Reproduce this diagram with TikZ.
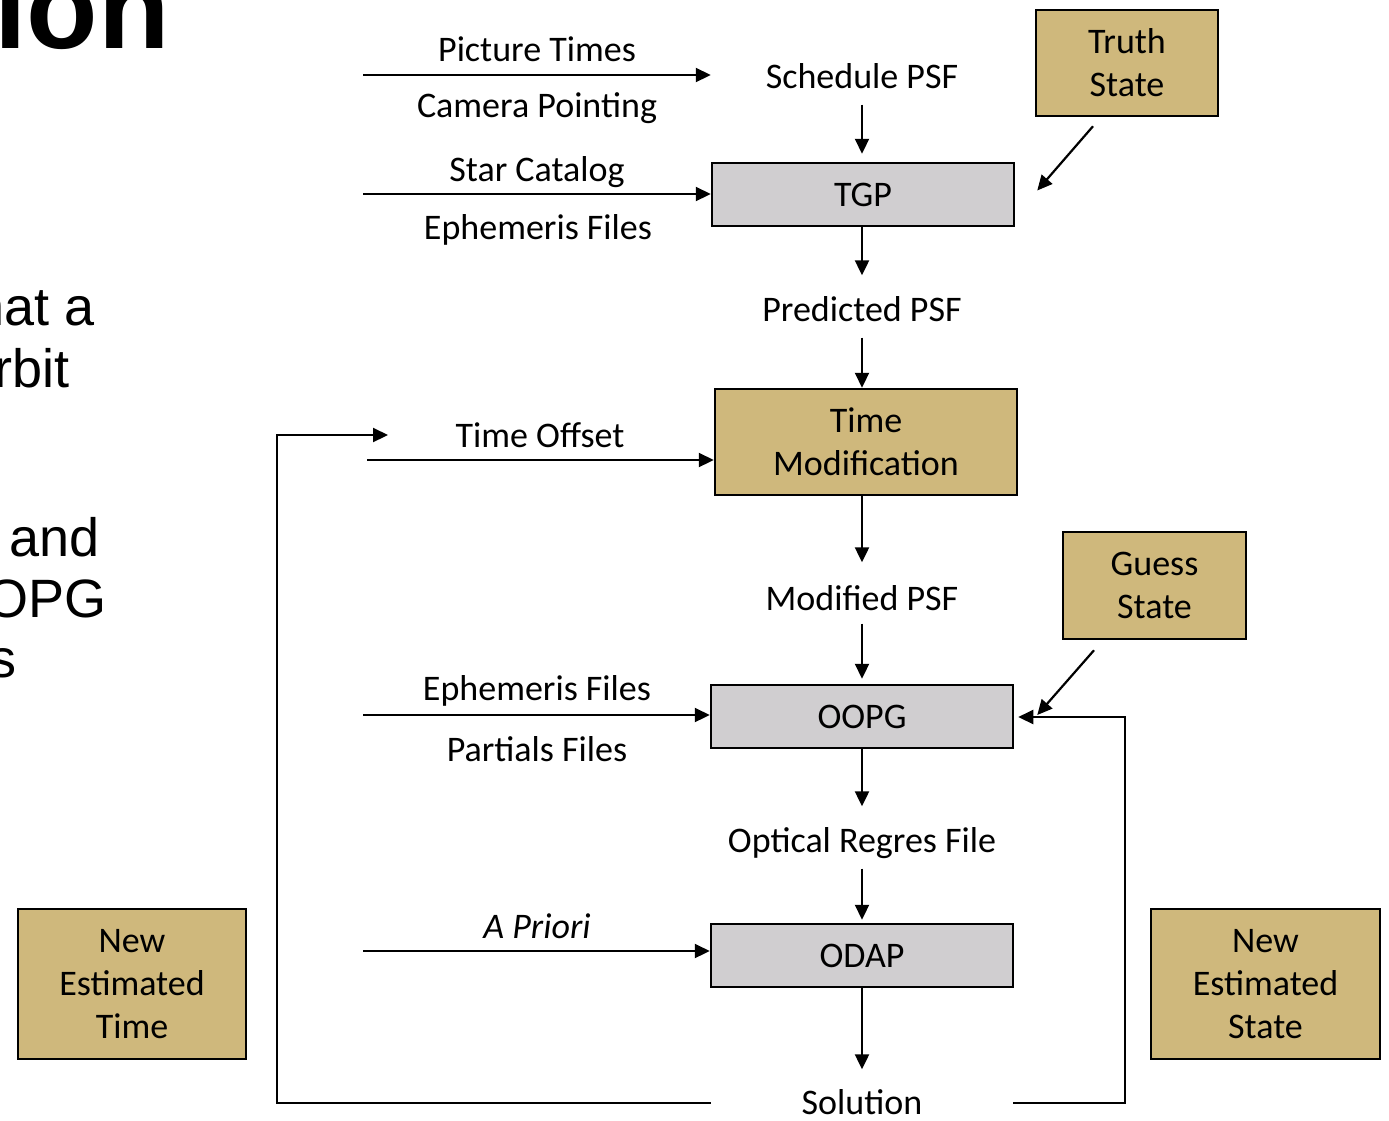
\documentclass[tikz,border=0pt]{standalone}
\usepackage{fontspec}
\setmainfont{Carlito}
\newfontfamily\arialf{Liberation Sans}
\usetikzlibrary{arrows.meta,calc}
\definecolor{tan}{HTML}{CFB87C}
\definecolor{boxgray}{HTML}{D0CED0}
\begin{document}
\begin{tikzpicture}[x=1pt,y=-1pt,
  lab/.style={inner sep=0pt,text height=29pt,text depth=6pt,font=\fontsize{36}{43}\selectfont},
  boxbase/.style={draw=black,line width=2.5pt,inner sep=0pt,align=center,font=\fontsize{36}{43}\selectfont},
  tanbox/.style={boxbase,fill=tan},
  graybox/.style={boxbase,fill=boxgray},
  arr/.style={line width=2.2pt,-{Triangle[length=15pt,width=14pt]}},
  side/.style={anchor=base east,inner sep=0pt,font=\arialf\fontsize{54}{60}\selectfont}]
\useasboundingbox (0,0) rectangle (1389,1120);
% left cropped text
\node[anchor=base east,inner sep=0pt,font=\arialf\bfseries\fontsize{117}{117}\selectfont] (ttl) at (170,48) {ion};
\node[side] (s1) at (95,325) {hat a};
\node[side] (s2) at (70,387) {rbit};
\node[side] (s3) at (100,556) {and};
\node[side] (s4) at (107,617) {OPG};
\node[side] (s5) at (17,677) {s};
% boxes
\node[tanbox,minimum width=182pt,minimum height=106pt] (truth) at (1127,63) {Truth\\State};
\node[graybox,minimum width=302pt,minimum height=63pt] (tgp) at (863,194.5) {TGP};
\node[tanbox,minimum width=302pt,minimum height=106pt] (tm) at (866,442) {Time\\Modification};
\node[tanbox,minimum width=183pt,minimum height=107pt] (guess) at (1154.5,585.5) {Guess\\State};
\node[graybox,minimum width=302pt,minimum height=63pt] (oopg) at (862,716.5) {OOPG};
\node[graybox,minimum width=302pt,minimum height=63pt] (odap) at (862,955.5) {ODAP};
\node[tanbox,minimum width=228pt,minimum height=150pt] (net) at (132,984) {New\\Estimated\\Time};
\node[tanbox,minimum width=229pt,minimum height=150pt] (nes) at (1265.5,984) {New\\Estimated\\State};
% labels
\node[lab] (pt) at (537,50) {Picture Times};
\node[lab] (cp) at (537,106) {Camera Pointing};
\node[lab] (sched) at (862,77) {Schedule PSF};
\node[lab] (sc) at (537,170) {Star Catalog};
\node[lab] (ef1) at (538,228) {Ephemeris Files};
\node[lab] (pred) at (862,310) {Predicted PSF};
\node[lab] (to) at (540,436) {Time Offset};
\node[lab] (mod) at (862,599) {Modified PSF};
\node[lab] (ef2) at (537,689) {Ephemeris Files};
\node[lab] (pf) at (537,750) {Partials Files};
\node[lab] (opt) at (862,841) {Optical Regres File};
\node[lab] (ap) at (537,927) {\itshape A Priori};
\node[lab,minimum width=302pt] (sol) at (862,1103) {Solution};
% input coordinates
\coordinate (i1) at (363,75);
\coordinate (i2) at (363,194);
\coordinate (i3) at (367,460);
\coordinate (i4) at (363,715);
\coordinate (i5) at (363,951);
\coordinate (lc) at (277,435);
\coordinate (le) at (388,435);
\coordinate (rc) at (1125,717);
% input arrows
\draw[arr] (i1) -- (i1 -| tgp.west);
\draw[arr] (i2) -- (i2 -| tgp.west);
\draw[arr] (i3) -- (i3 -| tm.west);
\draw[arr] (i4) -- (i4 -| oopg.west);
\draw[arr] (i5) -- (i5 -| odap.west);
% vertical chain
\draw[arr,shorten <=10pt,shorten >=8pt] (sched.south) -- (sched.south |- tgp.north);
\draw[arr,shorten >=17pt] (tgp.south -| pred.north) -- (pred.north);
\draw[arr,shorten <=10pt] (pred.south) -- (pred.south |- tm.north);
\draw[arr,shorten >=19pt] (tm.south -| mod.north) -- (mod.north);
\draw[arr,shorten <=7pt,shorten >=5pt] (mod.south) -- (mod.south |- oopg.north);
\draw[arr,shorten >=17pt] (oopg.south -| opt.north) -- (opt.north);
\draw[arr,shorten <=10pt,shorten >=3pt] (opt.south) -- (opt.south |- odap.north);
\draw[arr,shorten >=16pt] (odap.south) -- (sol.north);
% diagonal arrows
\draw[arr] ($(truth.south)+(-34,9)$) -- ($(tgp.east)+(22,-4)$);
\draw[arr] ($(guess.south)+(-60.5,10)$) -- ($(oopg.east)+(23,-1.5)$);
% feedback loops
\draw[arr] (sol.west) -| (lc) -- (le);
\draw[arr,shorten >=4pt] (sol.east) -| (rc) -- (rc -| oopg.east);
\end{tikzpicture}
\end{document}
